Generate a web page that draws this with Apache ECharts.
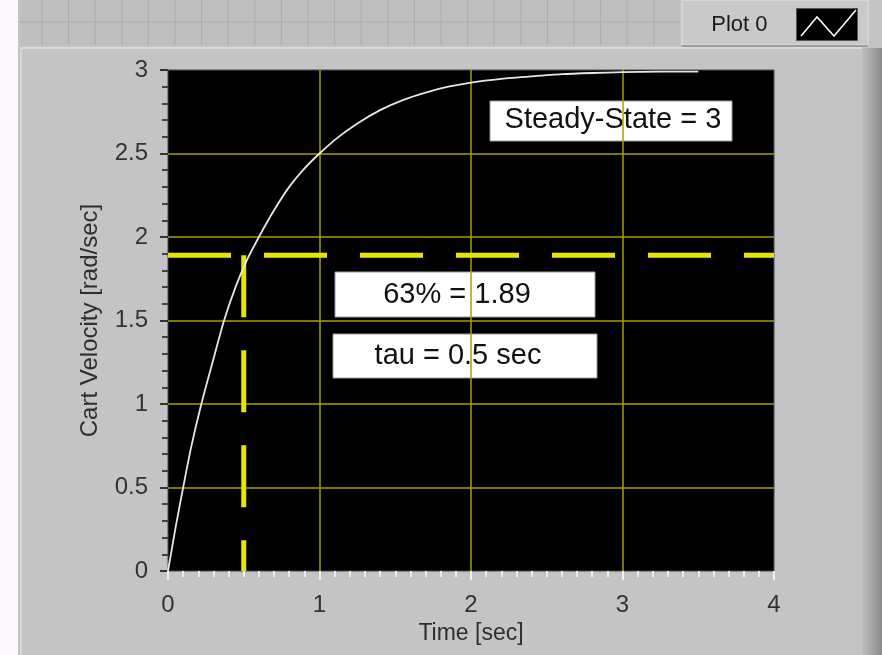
<!DOCTYPE html>
<html>
<head>
<meta charset="utf-8">
<title>Cart Velocity Step Response</title>
<script src="https://cdn.jsdelivr.net/npm/echarts@6/dist/echarts.min.js"></script>
<style>
  html, body { margin: 0; padding: 0; background: #fbf7fb; }
  #chart { width: 882px; height: 655px; }
</style>
</head>
<body>
<div id="chart"></div>
<script>
// Measured step response of the cart (time in seconds, velocity in rad/sec)
const timeSec = [0, 0.05, 0.1, 0.15, 0.22, 0.3, 0.37, 0.45, 0.52, 0.6, 0.7, 0.8, 0.9, 1.0,
  1.12, 1.25, 1.4, 1.55, 1.7, 1.85, 2.0, 2.2, 2.4, 2.6, 2.8, 3.0, 3.25, 3.5];
const velocityRadSec = [0, 0.26, 0.5, 0.73, 1.0, 1.27, 1.5, 1.71, 1.86, 2.0, 2.16, 2.3, 2.41, 2.5,
  2.595, 2.68, 2.76, 2.82, 2.865, 2.9, 2.925, 2.947, 2.962, 2.975, 2.982, 2.987, 2.99, 2.99];

// Annotated quantities
const steadyState = 3;
const level63 = 1.89;
const tauSec = 0.5;

// Axis ranges and tick spacing
const xRange = [0, 4];
const xStep = 1;
const yRange = [0, 3];
const yStep = 0.5;

const seriesName = 'Plot 0';
const noteLabels = ['Steady-State = ' + steadyState, '63% = ' + level63, 'tau = ' + tauSec + ' sec'];

const curve = timeSec.map((t, i) => [t, velocityRadSec[i]]);
const levelLine = [[xRange[0], level63], [xRange[1], level63]];
const tauLine = [[tauSec, level63], [tauSec, yRange[0]]];

const FONT = '"Liberation Sans", Arial, sans-serif';
const chart = echarts.init(document.getElementById('chart'), null, { renderer: 'canvas' });

// Front-panel decoration: grid strip across the top
const stripLines = [];
for (let x = 42; x < 680; x += 26.6) {
  stripLines.push({ type: 'line', z: -5, silent: true,
    shape: { x1: x, y1: 0, x2: x, y2: 45 }, style: { stroke: '#acacac', lineWidth: 1 } });
}
stripLines.push({ type: 'line', z: -5, silent: true,
  shape: { x1: 20, y1: 22, x2: 680, y2: 22 }, style: { stroke: '#acacac', lineWidth: 1 } });

function noteBox(x, y, w, h, text, tx, ty) {
  return {
    type: 'group', z: 100,
    children: [
      { type: 'rect', shape: { x: x, y: y, width: w, height: h },
        style: { fill: '#ffffff', stroke: '#9a9a9a', lineWidth: 1 } },
      { type: 'text', x: tx, y: ty,
        style: { text: text, fill: '#111', font: '29px ' + FONT, textAlign: 'center', textVerticalAlign: 'middle' } }
    ]
  };
}

chart.setOption({
  backgroundColor: 'transparent',
  animation: false,
  graphic: [
    { type: 'rect', z: -10, silent: true, shape: { x: 18, y: 0, width: 864, height: 655 }, style: { fill: '#c4c4c4' } },
    { type: 'rect', z: -9, silent: true, shape: { x: 20, y: 0, width: 660, height: 45 }, style: { fill: '#bfbfbf' } },
    ...stripLines,
    { type: 'rect', z: -8, silent: true, shape: { x: 682, y: 0, width: 186, height: 45 },
      style: { fill: '#c9c9c9', stroke: '#e4e4e4', lineWidth: 1 } },
    { type: 'line', z: -7, silent: true, shape: { x1: 682, y1: 46, x2: 868, y2: 46 }, style: { stroke: '#9c9c9c', lineWidth: 2 } },
    { type: 'line', z: -7, silent: true, shape: { x1: 20, y1: 48, x2: 862, y2: 48 }, style: { stroke: '#dadada', lineWidth: 2 } },
    { type: 'line', z: -7, silent: true, shape: { x1: 21, y1: 48, x2: 21, y2: 655 }, style: { stroke: '#d6d6d6', lineWidth: 2 } },
    { type: 'rect', z: -7, silent: true, shape: { x: 862, y: 48, width: 20, height: 607 },
      style: { fill: new echarts.graphic.LinearGradient(0, 0, 1, 0, [
        { offset: 0, color: '#bdbdbd' }, { offset: 1, color: '#8c8c8c' }]) } },
    // zigzag glyph inside the legend swatch
    { type: 'polyline', z: 200, silent: true,
      shape: { points: [[801, 36], [817, 17], [834, 36], [856, 10]] },
      style: { stroke: '#ffffff', lineWidth: 1.5, fill: null } },
    noteBox(490, 101, 242, 40, noteLabels[0], 613, 120),
    noteBox(335, 272, 260, 45, noteLabels[1], 457, 295),
    noteBox(333, 334, 264, 44, noteLabels[2], 458, 356)
  ],
  legend: {
    data: [seriesName],
    right: 19,
    top: 3,
    align: 'right',
    itemWidth: 61,
    itemHeight: 32,
    icon: 'path://M0 0H61V32H0Z',
    itemStyle: { color: '#000000', borderColor: '#555', borderWidth: 1 },
    textStyle: { fontFamily: FONT, fontSize: 22, color: '#1a1a1a', padding: [0, 24, 0, 0] },
    selectedMode: false
  },
  grid: {
    left: 168, right: 108, top: 70, bottom: 84,
    show: true, backgroundColor: '#000000', borderColor: '#4a4a4a', borderWidth: 1,
    containLabel: false
  },
  xAxis: {
    type: 'value', min: xRange[0], max: xRange[1], interval: xStep,
    offset: 5,
    name: 'Time [sec]', nameLocation: 'middle', nameGap: 45,
    nameTextStyle: { fontFamily: FONT, fontSize: 23, color: '#2e2e2e' },
    axisLine: { show: false },
    axisTick: { show: true, length: 9, lineStyle: { color: '#f2f2f2', width: 2 } },
    minorTick: { show: true, splitNumber: 10, length: 6, lineStyle: { color: '#ececec', width: 2 } },
    axisLabel: { margin: 17, fontFamily: FONT, fontSize: 24, color: '#333' },
    splitLine: { show: true, showMinLine: false, showMaxLine: false, lineStyle: { color: '#a2a200', width: 1.5 } },
    minorSplitLine: { show: false }
  },
  yAxis: {
    type: 'value', min: yRange[0], max: yRange[1], interval: yStep,
    offset: 6,
    name: 'Cart Velocity [rad/sec]', nameLocation: 'middle', nameGap: 60, nameRotate: 90,
    nameTextStyle: { fontFamily: FONT, fontSize: 24, color: '#2e2e2e' },
    axisLine: { show: false },
    axisTick: { show: true, length: 8, lineStyle: { color: '#333', width: 2 } },
    minorTick: { show: true, splitNumber: 5, length: 6, lineStyle: { color: '#444', width: 2 } },
    axisLabel: { margin: 14, fontFamily: FONT, fontSize: 24, color: '#333' },
    splitLine: { show: true, showMinLine: false, showMaxLine: false, lineStyle: { color: '#a2a200', width: 1.5 } },
    minorSplitLine: { show: false }
  },
  series: [
    {
      name: seriesName, type: 'line', data: curve, showSymbol: false, symbol: 'none',
      smooth: 0.2, lineStyle: { color: '#e6e6e6', width: 1.8 }, itemStyle: { color: '#e6e6e6' }, z: 4
    },
    {
      name: '63% level', type: 'line', data: levelLine, showSymbol: false, symbol: 'none',
      lineStyle: { color: '#e6e600', width: 5, type: [63, 33], cap: 'butt' }, z: 3
    },
    {
      name: 'tau', type: 'line', data: tauLine, showSymbol: false, symbol: 'none',
      lineStyle: { color: '#e6e600', width: 5, type: [62, 33], cap: 'butt' }, z: 3
    }
  ]
});
</script>
</body>
</html>
